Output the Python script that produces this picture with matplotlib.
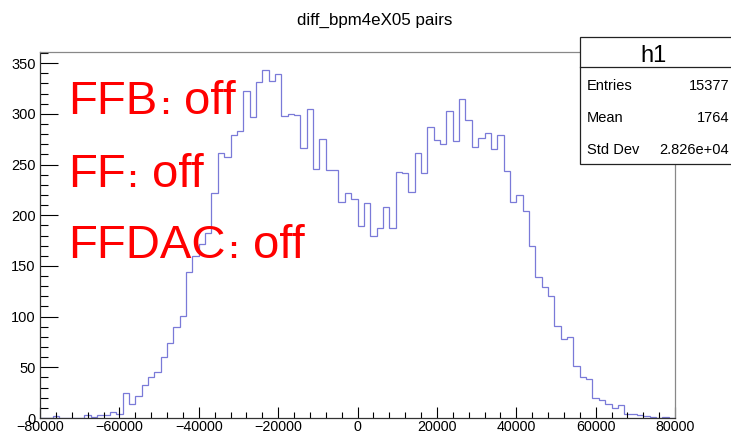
import matplotlib.pyplot as plt
import numpy as np
from matplotlib.patches import Rectangle
from matplotlib.ticker import MultipleLocator

# %%
W, H = 731, 434

# bin contents of h1, 100 bins from -80000 to 80000
counts = [
    0, 0, 2, 0, 0, 0, 0, 3, 1, 3,
    3, 6, 4, 25, 14, 22, 33, 40, 45, 60,
    74, 90, 101, 144, 160, 172, 182, 222, 261, 257,
    279, 283, 323, 297, 331, 343, 332, 339, 298, 300,
    299, 266, 305, 246, 275, 245, 245, 213, 222, 216,
    189, 212, 180, 187, 208, 187, 243, 242, 223, 261,
    242, 287, 274, 270, 303, 273, 315, 294, 267, 276,
    281, 265, 279, 244, 213, 220, 204, 170, 139, 129,
    120, 91, 78, 80, 51, 40, 38, 20, 18, 14,
    10, 13, 4, 4, 3, 2, 1, 0, 1, 0,
]
x_lo, x_hi = -80000, 80000
stat_names = ['Entries', 'Mean', 'Std Dev']
stat_values = ['15377', '1764', '2.826e+04']
status_labels = ['FFB', 'FF', 'FFDAC']
status_values = ['off', 'off', 'off']

plt.rcParams['font.family'] = ['Liberation Sans', 'DejaVu Sans']


def fx(px):
    return px / W


def fy(py):
    return 1 - py / H


# %%
fig = plt.figure(figsize=(W / 100, H / 100), dpi=100)
ax = fig.add_axes([fx(40), fy(418), (675 - 40) / W, (418 - 52) / H])

edges = np.linspace(x_lo, x_hi, len(counts) + 1)
ax.stairs(counts, edges, color='#7a7ad8', linewidth=0.9)

ax.set_xlim(x_lo, x_hi)
ax.set_ylim(0, 361)
ax.xaxis.set_major_locator(MultipleLocator(20000))
ax.xaxis.set_minor_locator(MultipleLocator(4000))
ax.yaxis.set_major_locator(MultipleLocator(50))
ax.yaxis.set_minor_locator(MultipleLocator(10))
ax.tick_params(axis='x', which='major', direction='in', length=8, width=0.8, pad=1.2, labelsize=10.3)
ax.tick_params(axis='x', which='minor', direction='in', length=4, width=0.8)
ax.tick_params(axis='y', which='major', direction='in', length=13, width=0.8, pad=3, labelsize=10.5)
ax.tick_params(axis='y', which='minor', direction='in', length=6, width=0.8)
for side in ['left', 'bottom']:
    ax.spines[side].set_color('#333333')
    ax.spines[side].set_linewidth(0.9)
for side in ['top', 'right']:
    ax.spines[side].set_color('#888888')
    ax.spines[side].set_linewidth(0.9)

fig.text(fx(375), fy(20), 'diff_bpm4eX05 pairs', ha='center', va='center', fontsize=12.2)

# red status labels, the colon is drawn smaller as in the original
baselines = [114, 187, 258]
colon_x = [160, 127, 228]
value_x = [184, 152, 253]
for lab, val, yb, cx, vx in zip(status_labels, status_values, baselines, colon_x, value_x):
    fig.text(fx(68), fy(yb), lab, color='red', fontsize=34, va='baseline')
    fig.text(fx(cx), fy(yb), ':', color='red', fontsize=22, fontweight='bold', va='baseline')
    fig.text(fx(vx), fy(yb), val, color='red', fontsize=34, va='baseline')

# stats box
box = Rectangle((fx(580), fy(164)), fx(760) - fx(580), fy(37) - fy(164),
                transform=fig.transFigure, facecolor='white', edgecolor='#222222',
                linewidth=0.9, zorder=5)
fig.patches.append(box)
fig.lines.append(plt.Line2D([fx(580), fx(731)], [fy(67), fy(67)],
                            transform=fig.transFigure, color='#222222', linewidth=0.9, zorder=6))
fig.text(fx(653), fy(62), 'h1', ha='center', va='baseline', fontsize=17, zorder=7)
for i, (name, val) in enumerate(zip(stat_names, stat_values)):
    y = 86 + 32 * i
    fig.text(fx(587), fy(y), name, ha='left', va='center', fontsize=10.5, zorder=7)
    fig.text(fx(729), fy(y), val, ha='right', va='center', fontsize=10.5, zorder=7)

fig.savefig('out.png', dpi=100)
